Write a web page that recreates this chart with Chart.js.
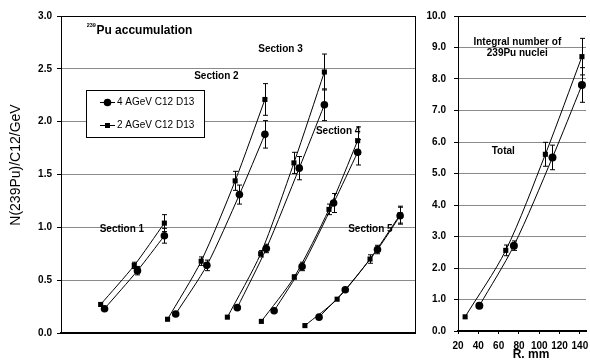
<!DOCTYPE html>
<html>
<head>
<meta charset="utf-8">
<script src="https://cdn.jsdelivr.net/npm/chart.js@4/dist/chart.umd.min.js"></script>
<style>
  html, body { margin: 0; padding: 0; background: #fff; }
  #wrap { position: relative; width: 590px; height: 361px; overflow: hidden; }
  canvas { position: absolute; top: 0; }
  #left { left: 0; }
  #right { left: 420px; }
</style>
</head>
<body>
<div id="wrap">
  <canvas id="left" width="420" height="361"></canvas>
  <canvas id="right" width="170" height="361"></canvas>
</div>
<script>
const FONT = "'Liberation Sans', Arial, Helvetica, sans-serif";

// Target sections along the assembly (horizontal position, arbitrary units 0-100)
const sections = ['Section 1', 'Section 2', 'Section 3', 'Section 4', 'Section 5'];

// 4 AGeV C12 D13 (circles): position, N(239Pu)/C12/GeV, error
const pos4 = [[12.3, 21.6, 29.2], [32.4, 41.2, 50.4, 57.6], [49.8, 58.0, 67.3, 74.4], [60.2, 68.1, 77.0, 83.8], [72.9, 80.3, 89.4, 95.8]];
const val4 = [[0.23, 0.59, 0.92], [0.18, 0.64, 1.31, 1.88], [0.24, 0.80, 1.56, 2.16], [0.21, 0.63, 1.23, 1.71], [0.15, 0.41, 0.79, 1.11]];
const err4 = [[0, 0.04, 0.07], [0, 0.05, 0.09, 0.13], [0, 0.04, 0.11, 0.15], [0, 0.04, 0.09, 0.12], [0, 0, 0.04, 0.08]];

// 2 AGeV C12 D13 (squares)
const pos2 = [[11.2, 20.7, 29.2], [30.1, 39.6, 49.2, 57.6], [47.0, 56.4, 65.8, 74.4], [56.6, 65.9, 75.7, 83.8], [68.9, 78.0, 87.3, 95.8]];
const val2 = [[0.27, 0.64, 1.04], [0.13, 0.68, 1.44, 2.21], [0.15, 0.75, 1.61, 2.47], [0.11, 0.53, 1.17, 1.82], [0.07, 0.32, 0.70, 1.12]];
const err2 = [[0, 0.03, 0.08], [0, 0.04, 0.09, 0.15], [0, 0.03, 0.10, 0.17], [0, 0.02, 0.05, 0.13], [0, 0, 0.04, 0.08]];

// Integral number of 239Pu nuclei versus radius R, mm
const rTotal4 = [41, 75, 113, 142];
const nTotal4 = [0.80, 2.71, 5.51, 7.81];
const eTotal4 = [0.05, 0.15, 0.39, 0.55];
const rTotal2 = [27, 67, 106, 142];
const nTotal2 = [0.45, 2.56, 5.61, 8.71];
const eTotal2 = [0, 0.17, 0.38, 0.58];

const seriesNames = ['4 AGeV C12 D13', '2 AGeV C12 D13'];

Chart.defaults.color = '#000';
Chart.defaults.font.family = FONT;

function series(xs, ys, errs, style, radius, tension) {
  return {
    data: xs.map((x, i) => ({ x: x, y: ys[i] })),
    errors: errs,
    showLine: true,
    borderColor: '#000',
    borderWidth: 1,
    backgroundColor: '#000',
    pointBackgroundColor: '#000',
    pointBorderColor: '#000',
    pointBorderWidth: 0,
    pointStyle: style,
    pointRadius: radius,
    tension: tension
  };
}

// Vertical error bars with small caps
const errorBars = {
  id: 'errorBars',
  afterDatasetsDraw(chart) {
    const ctx = chart.ctx;
    const ys = chart.scales.y;
    ctx.save();
    ctx.strokeStyle = '#000';
    ctx.lineWidth = 1;
    chart.data.datasets.forEach((ds, di) => {
      const meta = chart.getDatasetMeta(di);
      (ds.errors || []).forEach((e, i) => {
        if (!e) return;
        const p = meta.data[i];
        const v = ds.data[i].y;
        const x = Math.round(p.x) + 0.5;
        const top = ys.getPixelForValue(v + e);
        const bot = ys.getPixelForValue(v - e);
        ctx.beginPath();
        ctx.moveTo(x, top); ctx.lineTo(x, bot);
        ctx.moveTo(x - 2.5, top); ctx.lineTo(x + 2.5, top);
        ctx.moveTo(x - 2.5, bot); ctx.lineTo(x + 2.5, bot);
        ctx.stroke();
      });
    });
    ctx.restore();
  }
};

function text(ctx, str, x, y, size, weight, align) {
  ctx.font = (weight || 'bold') + ' ' + size + 'px ' + FONT;
  ctx.textAlign = align || 'center';
  ctx.textBaseline = 'middle';
  ctx.fillStyle = '#000';
  ctx.fillText(str, x, y);
}

// Frame, annotations and legend of the per-section chart
const leftDecor = {
  id: 'leftDecor',
  afterDraw(chart) {
    const ctx = chart.ctx;
    const a = chart.chartArea;
    const xs = chart.scales.x, ys = chart.scales.y;
    ctx.save();
    // right frame line
    ctx.strokeStyle = '#000';
    ctx.lineWidth = 1;
    ctx.beginPath();
    ctx.moveTo(Math.round(a.right) + 0.5, a.top);
    ctx.lineTo(Math.round(a.right) + 0.5, a.bottom);
    ctx.stroke();

    // title with superscript mass number
    const tx = xs.getPixelForValue(10.0), ty = ys.getPixelForValue(2.86);
    text(ctx, '239', tx - 0.5, ty - 5, 5.5, 'bold', 'right');
    text(ctx, 'Pu accumulation', tx, ty, 12, 'bold', 'left');

    // section labels
    const secAt = [[17.2, 0.984], [43.9, 2.43], [62.0, 2.69], [78.3, 1.91], [87.4, 0.98]];
    sections.forEach((s, i) => {
      text(ctx, s, xs.getPixelForValue(secAt[i][0]), ys.getPixelForValue(secAt[i][1]), 10, 'bold');
    });

    // legend box
    const lx = 86.5, ly = 90.5, lw = 118, lh = 47;
    ctx.fillStyle = '#fff';
    ctx.fillRect(lx, ly, lw, lh);
    ctx.strokeStyle = '#000';
    ctx.strokeRect(lx, ly, lw, lh);
    const rows = [102.5, 125.5];
    rows.forEach((ry, i) => {
      ctx.beginPath();
      ctx.moveTo(100, ry); ctx.lineTo(115, ry);
      ctx.stroke();
      ctx.fillStyle = '#000';
      if (i === 0) {
        ctx.beginPath();
        ctx.arc(107.5, ry, 3.8, 0, Math.PI * 2);
        ctx.fill();
      } else {
        ctx.fillRect(105, ry - 2.5, 5, 5);
      }
      text(ctx, seriesNames[i], 117, ry, 10, 'normal', 'left');
    });

    // y axis title
    ctx.save();
    ctx.translate(16, 165);
    ctx.rotate(-Math.PI / 2);
    text(ctx, 'N(239Pu)/C12/GeV', 0, 0, 14, 'normal');
    ctx.restore();
    ctx.restore();
  }
};

// Annotations of the integral chart
const rightDecor = {
  id: 'rightDecor',
  afterDraw(chart) {
    const ctx = chart.ctx;
    const xs = chart.scales.x, ys = chart.scales.y;
    ctx.save();
    text(ctx, 'Integral number of', xs.getPixelForValue(78.4), ys.getPixelForValue(9.18), 10, 'bold');
    text(ctx, '239Pu nuclei', xs.getPixelForValue(78.4), ys.getPixelForValue(8.82), 10, 'bold');
    text(ctx, 'Total', xs.getPixelForValue(64.6), ys.getPixelForValue(5.71), 10, 'bold');
    text(ctx, 'R. mm', 111, 355, 12, 'bold');
    ctx.restore();
  }
};

// ----- per-section chart -----
const leftSets = [];
sections.forEach((s, i) => {
  leftSets.push(series(pos4[i], val4[i], err4[i], 'circle', 3.8, 0.25));
  leftSets.push(series(pos2[i], val2[i], err2[i], 'rect', 3.6, 0.25));
});

new Chart(document.getElementById('left'), {
  type: 'scatter',
  data: { datasets: leftSets },
  plugins: [errorBars, leftDecor],
  options: {
    responsive: false,
    animation: false,
    events: [],
    layout: { padding: { left: 0, top: 16, right: 5, bottom: 28 } },
    plugins: { legend: { display: false }, tooltip: { enabled: false } },
    scales: {
      x: {
        type: 'linear', min: 0, max: 100,
        ticks: { display: false },
        grid: { display: false },
        border: { display: true, color: '#000', width: 2 },
        afterFit(s) { s.height = 0; }
      },
      y: {
        min: 0, max: 3,
        ticks: {
          stepSize: 0.5, padding: 5, color: '#000',
          font: { family: FONT, size: 10, weight: 'bold' },
          callback: v => v.toFixed(1)
        },
        grid: {
          color: c => (c.tick && c.tick.value === 3 ? '#000' : '#8a8a8a'),
          tickColor: '#000', tickLength: 4, lineWidth: 1
        },
        border: { color: '#000', width: 1 },
        afterFit(s) { s.width = 61; }
      }
    }
  }
});

// ----- integral chart -----
new Chart(document.getElementById('right'), {
  type: 'scatter',
  data: {
    datasets: [
      series(rTotal4, nTotal4, eTotal4, 'circle', 4, 0.3),
      series(rTotal2, nTotal2, eTotal2, 'rect', 3.6, 0.3)
    ]
  },
  plugins: [errorBars, rightDecor],
  options: {
    responsive: false,
    animation: false,
    events: [],
    layout: { padding: { left: 0, top: 16, right: 1, bottom: 0 } },
    plugins: { legend: { display: false }, tooltip: { enabled: false } },
    scales: {
      x: {
        type: 'linear', min: 20, max: 146,
        ticks: {
          stepSize: 20, padding: 6, color: '#000', maxRotation: 0, minRotation: 0,
          autoSkip: false, includeBounds: false,
          font: { family: FONT, size: 10, weight: 'bold' }
        },
        afterBuildTicks(s) { s.ticks = s.ticks.filter(t => Math.abs(t.value % 20) < 1e-6); },
        grid: { drawOnChartArea: false, tickColor: '#000', tickLength: 3 },
        border: { display: true, color: '#000', width: 2 },
        afterFit(s) { s.height = 30; s.paddingLeft = 0; s.paddingRight = 0; }
      },
      y: {
        min: 0, max: 10,
        ticks: {
          stepSize: 1, padding: 8, color: '#000',
          font: { family: FONT, size: 10, weight: 'bold' },
          callback: v => v.toFixed(1)
        },
        grid: {
          color: c => (c.tick && c.tick.value === 10 ? '#000' : '#8a8a8a'),
          tickColor: '#000', tickLength: 4, lineWidth: 1
        },
        border: { color: '#000', width: 1 },
        afterFit(s) { s.width = 38; s.paddingTop = 0; s.paddingBottom = 0; }
      }
    }
  }
});
</script>
</body>
</html>
